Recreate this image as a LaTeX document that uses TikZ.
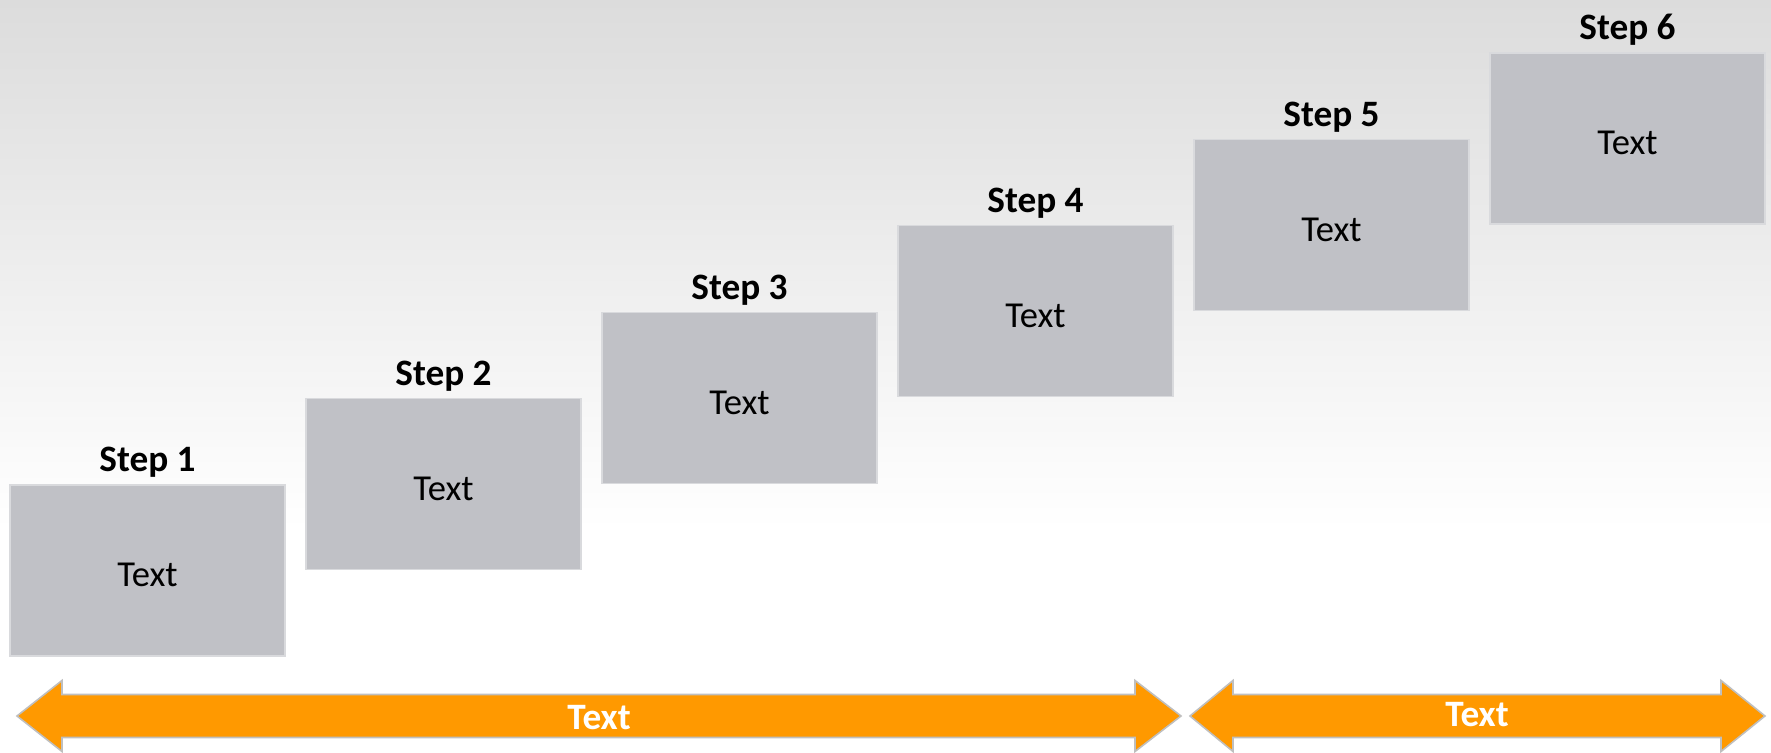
\documentclass[tikz,border=0pt]{standalone}
\usepackage{fontspec}
\setmainfont{Carlito}
\usetikzlibrary{positioning}
\definecolor{boxgray}{HTML}{C0C1C6}
\definecolor{bgtop}{HTML}{DCDCDC}
\definecolor{arroworange}{HTML}{FF9900}
\definecolor{arrowedge}{HTML}{BFBFBF}
\tikzset{
  stepbox/.style={rectangle,fill=boxgray,draw=boxgray!60!white,line width=0.3pt,
    minimum width=2.75cm,minimum height=1.71cm,inner sep=0pt,
    text height=0.33cm,text depth=0pt,
    font=\fontsize{10.4}{12}\selectfont},
  steplabel/.style={inner sep=0pt,font=\fontsize{10.6}{12}\selectfont\bfseries},
  bigarrow/.style={fill=arroworange,draw=arrowedge,line width=0.45pt,line join=miter},
  arrowtext/.style={text=white,inner sep=0pt,font=\fontsize{10.6}{12}\selectfont\bfseries}
}
\begin{document}
\begin{tikzpicture}[x=1cm,y=1cm]
\useasboundingbox (0,0) rectangle (17.71,7.53);
\fill[white] (0,0) rectangle (17.71,2.24);
\shade[top color=bgtop,bottom color=white] (0,2.23) rectangle (17.71,7.53);
\foreach \i in {1,...,6}
{
\node[stepbox] (b\i) at ({1.475+2.96*(\i-1)},{1.825+0.864*(\i-1)}) {Text};
\node[steplabel,above=0.06cm of b\i] (s\i) {Step \i};
}
\draw[bigarrow] (0.17,0.37) -- (0.62,0.725) -- (0.62,0.585) -- (11.35,0.585) -- (11.35,0.725)
  -- (11.81,0.37) -- (11.35,0.015) -- (11.35,0.155) -- (0.62,0.155) -- (0.62,0.015) -- cycle;
\node[arrowtext] (t1) at (5.99,0.35) {Text};
\draw[bigarrow] (11.90,0.37) -- (12.33,0.725) -- (12.33,0.585) -- (17.21,0.585) -- (17.21,0.725)
  -- (17.65,0.37) -- (17.21,0.015) -- (17.21,0.155) -- (12.33,0.155) -- (12.33,0.015) -- cycle;
\node[arrowtext] (t2) at (14.77,0.38) {Text};
\end{tikzpicture}
\end{document}
